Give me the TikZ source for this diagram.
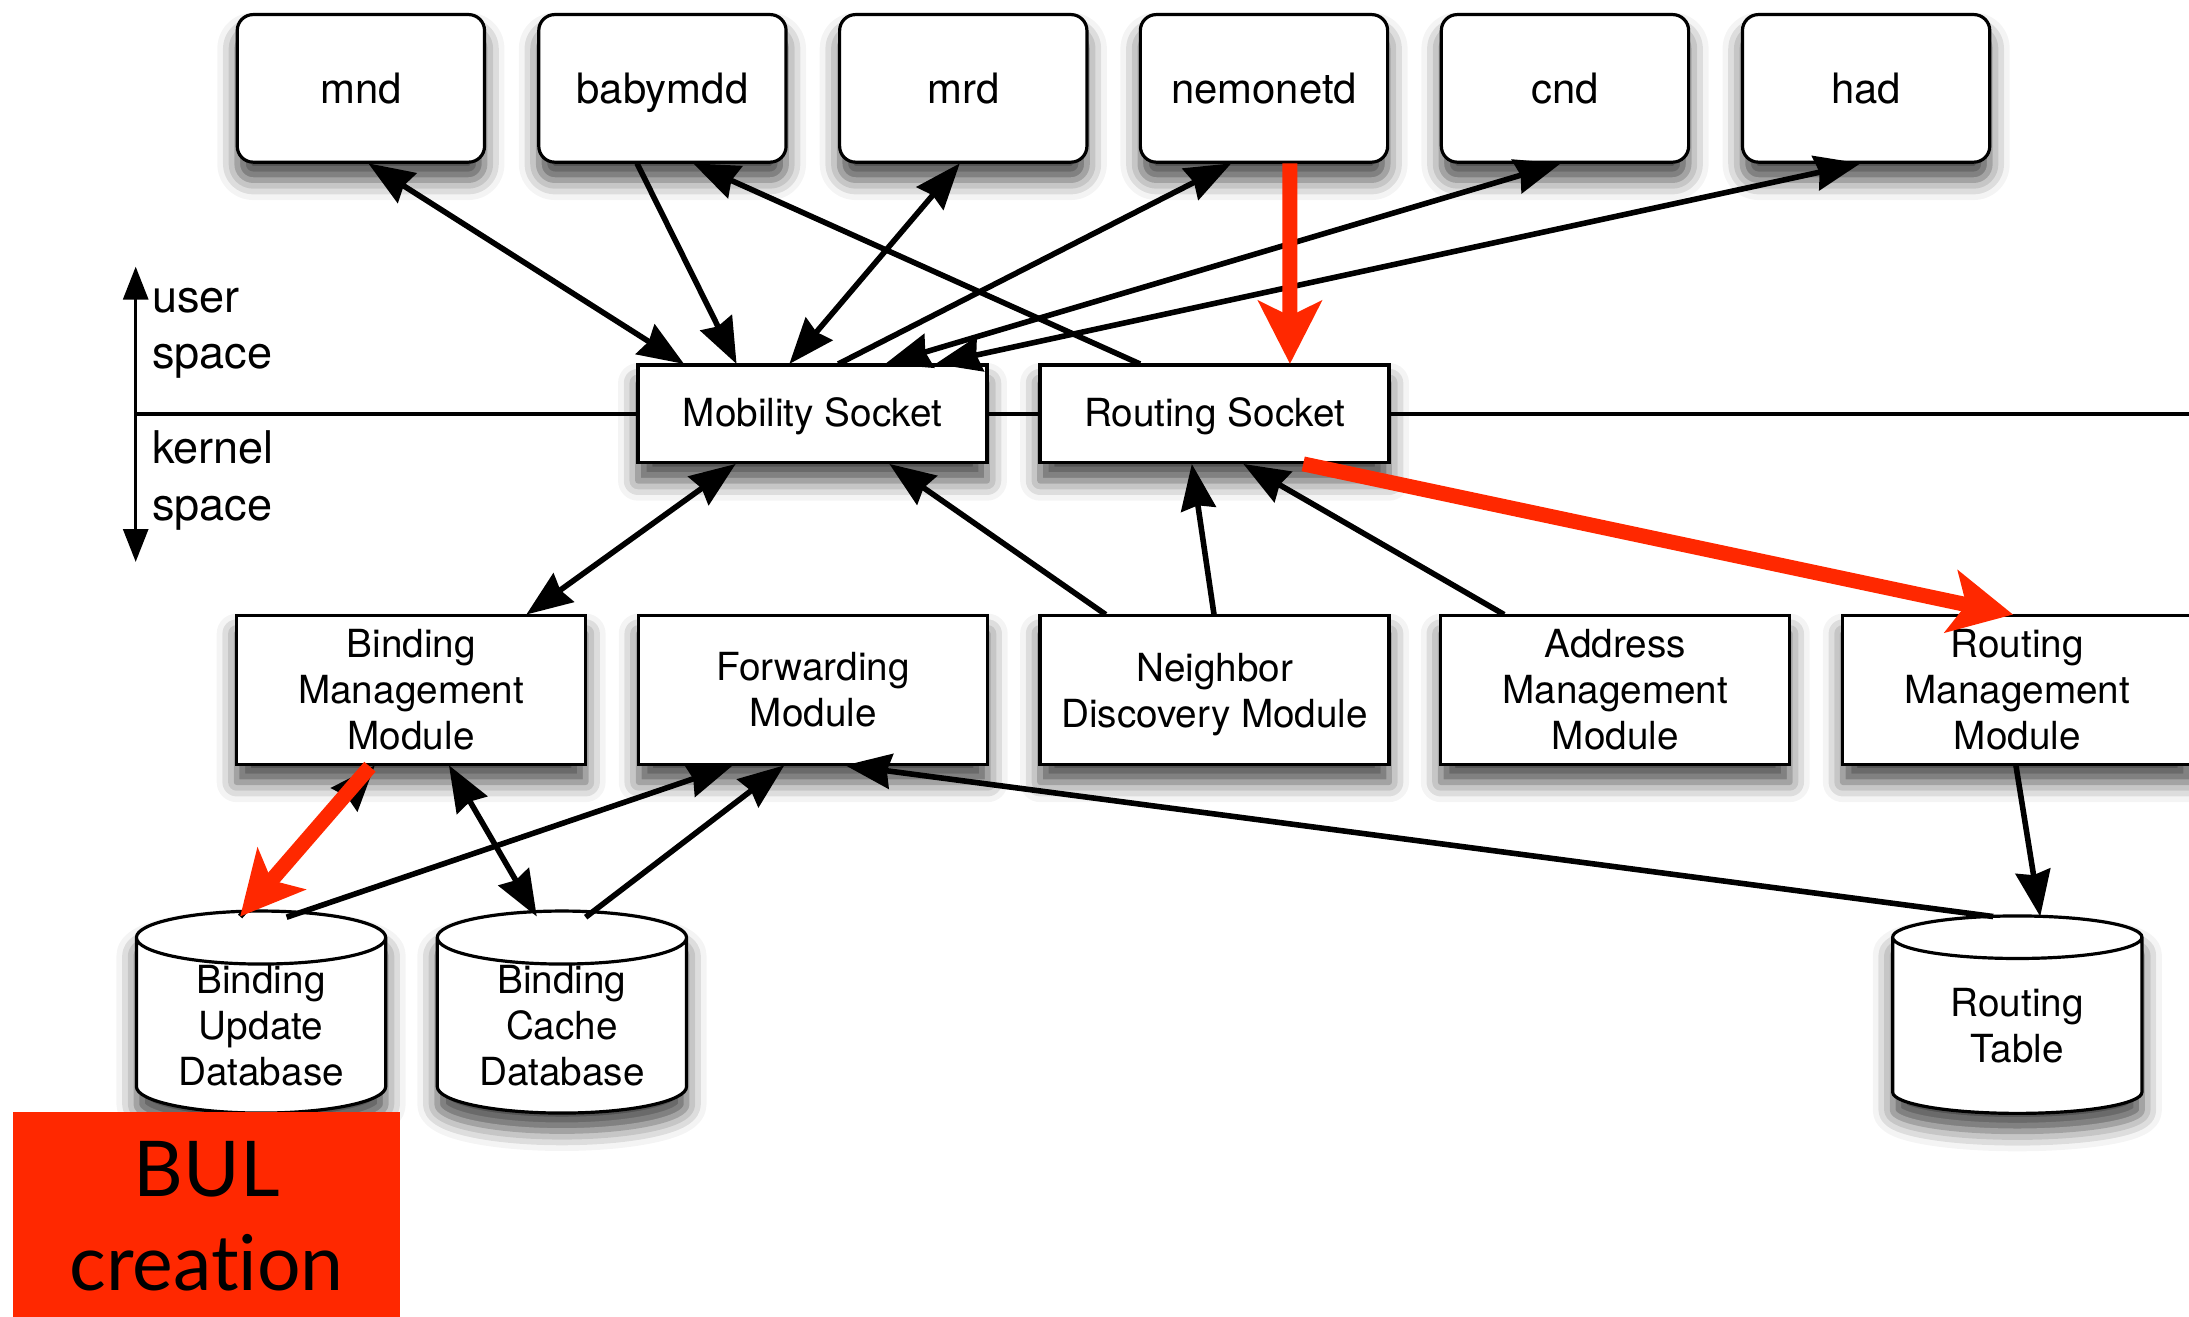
\documentclass[tikz,border=0pt]{standalone}
\usepackage{fontspec}
\setmainfont{TeX Gyre Heros}
\newfontfamily\bulfont[Ligatures={NoCommon,NoRare,NoContextual}]{Lato}
\usetikzlibrary{arrows.meta,shadows.blur,shapes.geometric,calc}

\definecolor{alertred}{RGB}{255,40,0}

\tikzset{
  bk/.tip={Stealth[length=23pt,width=17.5pt,inset=2pt]},
  rd/.tip={Stealth[length=31.5pt,width=31.5pt,inset=7.5pt]},
  ax/.tip={Triangle[length=16.5pt,width=12.5pt]},
  dropsh/.style={blur shadow={shadow xshift=0pt,shadow yshift=-9pt,
      shadow blur radius=10pt,shadow opacity=72}},
  daemon/.style={draw,line width=1.6pt,fill=white,rounded corners=8pt,
      minimum width=124pt,minimum height=74pt,inner sep=0pt,
      text height=15pt,text depth=0pt,
      font=\fontsize{21}{25}\selectfont,dropsh},
  sockbox/.style={draw,line width=1.6pt,fill=white,
      minimum width=175pt,minimum height=49pt,inner sep=0pt,
      text height=12.8pt,text depth=0pt,
      font=\fontsize{19.4}{23.1}\selectfont,dropsh},
  modbox/.style={draw,line width=1.6pt,fill=white,align=center,
      minimum width=175pt,minimum height=74.5pt,inner sep=0pt,
      font=\fontsize{19.4}{23.1}\selectfont,dropsh},
  dbcyl/.style={cylinder,shape border rotate=90,shape aspect=0.32,
      draw,line width=1.6pt,fill=white,align=center,
      minimum width=125pt,minimum height=99pt,inner sep=0pt,
      font=\fontsize{19.4}{23.1}\selectfont,dropsh},
  sidelabel/.style={anchor=base west,inner sep=0pt,
      font=\fontsize{22.6}{26}\selectfont},
  link/.style={line width=2.8pt,black},
  alertlink/.style={line width=7.5pt,alertred},
  sepline/.style={line width=1.6pt,black},
}

\begin{document}
\begin{tikzpicture}[x={(0.7pt,0)},y={(0,-0.7pt)}]
\useasboundingbox (0,0) rectangle (1568,943);
\clip (0,0) rectangle (1568,943);

% user-space daemons
\node[daemon] (mnd)      at (258.5,63.3)  {mnd};
\node[daemon] (babymdd)  at (474.5,63.3)  {babymdd};
\node[daemon] (mrd)      at (690,63.3)    {mrd};
\node[daemon] (nemonetd) at (905.4,63.3)  {nemonetd};
\node[daemon] (cnd)      at (1121,63.3)   {cnd};
\node[daemon] (had)      at (1336.7,63.3) {had};

% sockets on the user/kernel boundary
\node[sockbox] (ms) at (582,296.5) {Mobility Socket};
\node[sockbox] (rs) at (870,296.5) {Routing Socket};

% kernel modules
\node[modbox] (bmm) at (294.5,494.2) {Binding\\Management\\Module};
\node[modbox] (fwd) at (582.5,494.2) {Forwarding\\Module};
\node[modbox] (nd)  at (870,494.2)   {Neighbor\\\raisebox{0pt}[\height][0pt]{Discovery Module}};
\node[modbox] (amm) at (1157,494.2)  {Address\\Management\\Module};
\node[modbox] (rmm) at (1445,494.2)  {Routing\\Management\\Module};

% databases
\node[dbcyl] (bud) at (187,735)   {Binding\\Update\\Database};
\node[dbcyl] (bcd) at (402.5,735) {Binding\\Cache\\Database};
\node[dbcyl] (rt)  at (1445,735)  {Routing\\Table};

% highlighted step
\node[fill=alertred,minimum width=193.8pt,minimum height=104pt,inner sep=0pt,
      align=center,font=\bulfont\fontsize{38.6}{47}\selectfont]
      (bul) at (148,871) {BUL\\creation};

% user / kernel boundary
\coordinate (axtop) at (97.2,191);
\coordinate (axbot) at (97.2,402.5);
\coordinate (sepL)  at (97.2,296.5);
\coordinate (sepR)  at (1568,296.5);
\draw[sepline,ax-ax] (axtop) -- (axbot);
\draw[sepline] (sepL) -- (ms.west);
\draw[sepline] (ms.east) -- (rs.west);
\draw[sepline] (rs.east) -- (sepR);
\node[sidelabel] (user1)   at (108.6,223.5) {user};
\node[sidelabel] (user2)   at (108.6,264)   {space};
\node[sidelabel] (kernel1) at (108.6,332)   {kernel};
\node[sidelabel] (kernel2) at (108.6,373)   {space};

% daemons <-> sockets
\draw[link,bk-bk] ($(mnd)+(5.3,53.7)$) -- ($(ms)+(-92,-35.8)$);
\draw[link,-bk] ($(babymdd)+(-18.2,53.7)$) -- ($(ms)+(-54.4,-35.8)$);
\draw[link,-bk] ($(rs)+(-53.4,-35.8)$) -- ($(babymdd)+(22,53.7)$);
\draw[link,bk-bk] ($(mrd)+(-2.5,53.7)$) -- ($(ms)+(-16.6,-35.8)$);
\draw[link,-bk] ($(ms)+(18.5,-35.8)$) -- ($(nemonetd)+(-23.4,53.7)$);
\draw[link,bk-bk] ($(cnd)+(-3,53.7)$) -- ($(ms)+(52,-35.8)$);
\draw[link,bk-bk] ($(had)+(-4,53.7)$) -- ($(ms)+(88,-35.8)$);

% modules <-> sockets
\draw[link,bk-bk] ($(bmm)+(82.5,-54)$) -- ($(ms)+(-55,35.8)$);
\draw[link,-bk] ($(nd)+(-78,-54)$) -- ($(ms)+(55,35.8)$);
\draw[link,-bk] ($(nd)+(-0.4,-54)$) -- ($(rs)+(-16.3,35.8)$);
\draw[link,-bk] ($(amm)+(-79.6,-54)$) -- ($(rs)+(20.6,35.8)$);

% databases <-> modules
\draw[link,-bk] ($(bud)+(-15,-78.5)$) -- ($(bmm)+(-26,54)$);
\draw[link,-bk] ($(bud)+(18.3,-78)$) -- ($(fwd)+(-57.5,54)$);
\draw[link,bk-bk] ($(bmm)+(27.1,54)$) -- ($(bcd)+(-18,-78.5)$);
\draw[link,-bk] ($(bcd)+(17,-78)$) -- ($(fwd)+(-20.7,54)$);
\draw[link,-bk] ($(rt)+(-17.3,-78.5)$) -- ($(fwd)+(23,54)$);
\draw[link,-bk] ($(rmm)+(-1,54)$) -- ($(rt)+(16.4,-78.5)$);

% highlighted path
\draw[alertlink,-rd] ($(nemonetd)+(18.6,53.7)$) -- ($(rs)+(54,-35.8)$);
\draw[alertlink,-rd] ($(rs)+(63.5,35.8)$) -- ($(rmm)+(-3,-54)$);
\draw[alertlink,-rd] ($(bmm)+(-29.5,55)$) -- ($(bud)+(-15,-78.5)$);
\end{tikzpicture}
\end{document}
